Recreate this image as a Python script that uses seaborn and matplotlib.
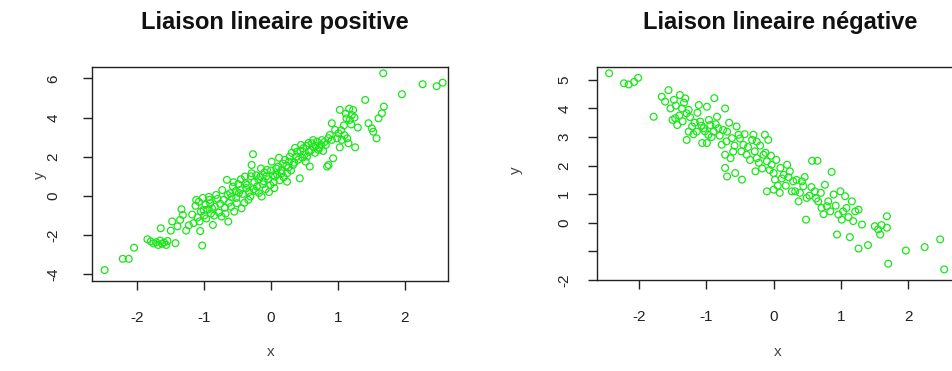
import matplotlib
matplotlib.use("Agg")
import matplotlib.pyplot as plt
import seaborn as sns
import pandas as pd
from matplotlib import font_manager

# ---------------- data ----------------
pos_x = [-2.49, -2.22, -2.13, -2.05, -1.85, -1.80, -1.76, -1.72, -1.69, -1.66,
         -1.63, -1.60, -1.57, -1.55, -1.43, -1.65, -1.50, -1.48, -1.40, -1.34,
         -1.32, -1.36, -1.27, -1.23, -1.06, -1.03, -1.16, -1.13, -1.10, -1.08,
         -1.05, -1.02, -1.00, -0.98, -0.95, -0.92, -0.90, -1.01, -0.91, -0.87,
         -0.84, -0.80, -0.78, -0.74, -0.71, -0.69, -0.66, -0.64, -0.63, -0.61,
         -0.59, -0.57, -0.55, -0.53, -0.51, -0.49, -0.46, -0.44, -0.42, -0.39,
         -0.37, -0.36, -0.34, -0.31, -0.29, -0.29, -0.27, -0.25, -0.23, -0.21,
         -0.19, -0.16, -0.14, -0.12, -0.10, -0.08, -0.06, -0.04, -0.01, 0.01,
         0.03, 0.05, 0.06, 0.08, 0.11, 0.13, 0.16, 0.18, 0.21, 0.24,
         0.24, 0.26, 0.28, 0.30, 0.33, 0.36, 0.39, 0.41, 0.43, 0.45,
         0.48, 0.50, 0.52, 0.54, 0.56, 0.58, 0.60, 0.61, 0.64, 0.66,
         0.69, 0.72, 0.75, 0.78, 0.80, 0.84, 0.86, 0.88, 0.91, 0.91,
         0.93, 0.96, 0.99, 1.01, 1.03, 1.03, 1.06, 1.09, 1.13, 1.14,
         1.16, 1.18, 1.21, 1.23, 1.26, 1.30, 1.41, 1.46, 1.51, 1.53,
         1.58, 1.61, 1.66, 1.69, 1.68, 1.96, 2.27, 2.48, 2.57,
         -1.18, -1.12, -1.07, -0.97, -0.93, -0.88, -0.85, -0.82, -0.76, -0.73,
         -0.68, -0.65, -0.60, -0.56, -0.52, -0.48, -0.45, -0.40, -0.38, -0.33,
         -0.30, -0.26, -0.22, -0.18, -0.15, -0.11, -0.07, -0.03, 0.00, 0.04,
         0.09, 0.12, 0.15, 0.19, 0.23, 0.27, 0.31, 0.35, 0.38, 0.44,
         0.47, 0.53, 0.57, 0.63, 0.67, 0.71, 0.76, 0.82, 0.86, 1.05,
         1.10, 1.12, 1.17, 1.20, 1.25]
pos_y = [-3.78, -3.21, -3.21, -2.64, -2.21, -2.32, -2.42, -2.36, -2.50, -2.28,
         -2.44, -2.38, -2.50, -2.30, -2.41, -1.65, -1.77, -1.30, -1.55, -0.68,
         -0.97, -1.22, -1.77, -1.50, -1.79, -2.53, -1.39, -0.50, -1.10, -0.30,
         -0.80, -0.10, -1.00, -0.45, -0.70, -0.20, -0.90, -0.71, -0.37, -1.48,
         -0.55, -0.15, -0.85, -1.05, -0.20, -0.60, 0.82, -1.31, -0.35, 0.14,
         -0.05, 0.48, -0.80, 0.25, -0.37, 0.60, 0.31, -0.63, 0.10, 0.99,
         0.40, 0.56, -0.20, -0.03, 1.58, 1.16, 2.13, 0.70, 0.25, 0.48,
         0.85, 0.99, -0.03, 0.60, 1.20, 0.35, 1.33, 0.85, 0.56, 1.75,
         1.05, 0.40, 0.99, 1.40, 1.50, 0.80, 1.16, 1.65, 1.84, 0.73,
         1.16, 1.45, 2.01, 1.30, 1.58, 2.45, 2.26, 1.85, 0.90, 2.60,
         2.43, 2.10, 1.75, 2.01, 2.70, 1.50, 2.35, 2.69, 2.50, 2.20,
         2.77, 2.45, 2.60, 2.30, 2.75, 1.50, 1.58, 3.11, 2.86, 3.71,
         1.92, 3.37, 2.94, 3.20, 2.48, 4.39, 2.86, 3.60, 3.96, 2.94,
         2.69, 3.88, 4.13, 4.39, 2.48, 3.49, 4.90, 3.71, 3.45, 3.28,
         2.94, 3.96, 4.22, 4.56, 6.26, 5.19, 5.70, 5.60, 5.78,
         -0.95, -0.20, -1.30, -1.15, -0.05, -0.65, -1.00, 0.05, -0.40, 0.30,
         -0.90, 0.05, -0.55, 0.70, -0.10, 0.15, 0.85, -0.35, 0.65, 0.20,
         1.00, 0.35, 1.05, 0.15, 1.40, 0.75, 1.00, 0.20, 1.30, 0.70,
         1.10, 1.95, 1.30, 0.95, 1.55, 1.75, 2.20, 1.70, 2.00, 2.30,
         1.95, 2.55, 2.25, 2.85, 2.55, 2.35, 2.85, 2.60, 2.95, 3.35,
         3.10, 4.20, 4.45, 3.65, 4.00]

neg_x = [-2.44, -2.22, -2.15, -2.07, -2.01, -1.78, -1.66, -1.61, -1.56, -1.53,
         -1.48, -1.46, -1.43, -1.39, -1.36, -1.31, -1.29, -1.26, -1.29, -1.26,
         -1.21, -1.14, -1.11, -1.09, -1.06, -1.04, -0.99, -0.99, -0.97, -0.94,
         -0.89, -0.88, -0.84, -0.82, -0.77, -0.72, -0.72, -0.69, -0.72, -0.69,
         -0.64, -0.62, -0.60, -0.57, -0.55, -0.52, -0.47, -0.45,
         -0.30, -0.25, -0.40, -0.27, -0.25, -0.15, -0.10, -0.13, -0.08, -0.10,
         0.00, 0.09, -0.03, 0.00, 0.02, 0.10, 0.15, 0.20, 0.24, 0.29,
         0.32, 0.37, 0.42, 0.44, 0.48, 0.49, 0.57, 0.65, 0.61, 0.66,
         0.76, 0.71, 0.79, 0.84, 0.86, 0.89, 0.94, 0.96, 0.99, 1.01,
         1.06, 1.08, 1.13, 1.16, 1.18, 1.21, 1.26, 1.26, 1.31, 1.40,
         1.50, 1.55, 1.60, 1.58, 1.68, 1.68, 1.70, 1.96, 2.24, 2.47,
         2.53,
         -1.50, -1.45, -1.40, -1.35, -1.33, -1.24, -1.19, -1.17, -1.13, -1.07,
         -1.02, -0.96, -0.92, -0.86, -0.80, -0.75, -0.70, -0.66, -0.58, -0.50,
         -0.48, -0.43, -0.38, -0.35, -0.32, -0.28, -0.22, -0.20, -0.17, -0.12,
         -0.06, -0.04, 0.04, 0.06, 0.12, 0.18, 0.22, 0.27, 0.34, 0.39,
         0.46, 0.53, 0.56, 0.63, 0.70, 0.74, 0.81, 0.92, 1.03, 1.11]
neg_y = [5.23, 4.88, 4.84, 4.93, 5.07, 3.71, 4.41, 4.24, 4.64, 4.00,
         4.30, 3.66, 3.42, 4.47, 4.00, 4.35, 3.83, 3.95, 2.90, 3.19,
         3.37, 3.19, 4.12, 3.54, 2.79, 3.31, 4.06, 2.79, 3.08, 3.42,
         3.19, 4.36, 3.71, 3.31, 2.73, 4.00, 2.38, 3.19, 1.92, 1.62,
         2.26, 2.96, 2.49, 1.74, 3.37, 3.08, 1.51, 2.73,
         3.08, 2.84, 2.38, 1.80, 2.26, 2.38, 2.15, 3.08, 2.90, 1.10,
         1.16, 1.05, 2.03, 1.74, 1.51, 1.92, 1.68, 2.03, 1.80, 1.45,
         1.10, 0.75, 1.45, 1.28, 0.11, 0.87, 2.17, 2.17, 1.10, 0.75,
         1.33, 0.52, 0.58, 0.40, 1.78, 0.99, -0.41, 0.29, 1.10, 0.11,
         0.93, 0.52, -0.50, 0.75, 0.06, 0.40, 0.46, -0.90, -0.06, -0.78,
         -0.12, -0.23, -0.08, -0.41, 0.23, -0.17, -1.43, -0.97, -0.85, -0.58,
         -1.63,
         3.60, 4.10, 3.75, 3.55, 4.20, 3.70, 3.10, 3.50, 3.85, 3.40,
         3.20, 3.60, 3.00, 3.45, 3.05, 3.25, 2.85, 3.50, 2.70, 2.95,
         2.50, 3.10, 2.65, 2.20, 2.90, 2.50, 2.10, 2.70, 1.90, 2.45,
         1.85, 2.35, 2.20, 1.30, 1.55, 1.30, 1.60, 1.10, 1.50, 1.05,
         1.60, 0.95, 1.25, 0.85, 1.05, 0.30, 0.75, 0.60, 0.40, 0.20]

titles = ["Liaison lineaire positive", "Liaison lineaire négative"]
pos_yticks = [-4, -2, 0, 2, 4, 6]
neg_yticks = [-2, -1, 0, 1, 2, 3, 4, 5]
neg_yticklabels = ["-2", "", "0", "1", "2", "3", "4", "5"]
xticks = [-2, -1, 0, 1, 2]

# ---------------- figure ----------------
sns.set_style("white")
plt.rcParams["font.family"] = ["Liberation Sans", "DejaVu Sans"]

installed = {f.name for f in font_manager.fontManager.ttflist}
if "Liberation Sans Narrow" in installed:
    title_family, title_size = ["Liberation Sans Narrow", "Liberation Sans"], 19
else:
    title_family, title_size = ["Liberation Sans", "DejaVu Sans"], 17

W, H = 952, 371
fig = plt.figure(figsize=(W / 100, H / 100), dpi=100)

def frac(l, t, r, b):
    return [l / W, 1 - b / H, (r - l) / W, (b - t) / H]

ax1 = fig.add_axes(frac(92, 67, 448, 281))
ax2 = fig.add_axes(frac(597, 67, 955, 280))

green = "#19e619"
df1 = pd.DataFrame({"x": pos_x, "y": pos_y})
df2 = pd.DataFrame({"x": neg_x, "y": neg_y})
for ax, df in ((ax1, df1), (ax2, df2)):
    sns.scatterplot(data=df, x="x", y="y", ax=ax, marker="o", s=24,
                    facecolors="none", edgecolor=green, linewidth=0.9)

ax1.set_xlim(-2.68, 2.65)
ax1.set_ylim(-4.34, 6.58)
ax2.set_xlim(-2.62, 2.69)
ax2.set_ylim(-1.98, 5.45)

ax1.set_yticks(pos_yticks)
ax1.set_yticklabels([str(v) for v in pos_yticks])
ax2.set_yticks(neg_yticks)
ax2.set_yticklabels(neg_yticklabels)

for ax, ypad in ((ax1, 16), (ax2, 12)):
    ax.set_xticks(xticks)
    ax.set_xticklabels([str(v) for v in xticks])
    ax.set_xlabel("")
    ax.set_ylabel("")
    for s in ax.spines.values():
        s.set_visible(True)
        s.set_color("#222222")
        s.set_linewidth(1.0)
    ax.tick_params(axis="both", which="both", direction="out", length=6.5,
                   width=1.0, color="#222222", labelsize=11, labelcolor="#222222",
                   bottom=True, left=True)
    ax.tick_params(axis="x", pad=15)
    ax.tick_params(axis="y", pad=ypad)
    for lab in ax.get_yticklabels():
        lab.set_rotation(90)
        lab.set_va("center")

fig.text(275 / W, 1 - 23 / H, titles[0], ha="center", va="center",
         fontsize=title_size, fontweight="bold", color="#111111", family=title_family)
fig.text(780 / W, 1 - 23 / H, titles[1], ha="center", va="center",
         fontsize=title_size, fontweight="bold", color="#111111", family=title_family)

fig.text(271 / W, 1 - 352 / H, "x", ha="center", va="center", fontsize=11, color="#444444")
fig.text(778 / W, 1 - 352 / H, "x", ha="center", va="center", fontsize=11, color="#444444")
fig.text(40 / W, 1 - 175 / H, "y", ha="center", va="center", fontsize=11, color="#444444", rotation=90)
fig.text(516 / W, 1 - 170 / H, "y", ha="center", va="center", fontsize=11, color="#444444", rotation=90)

fig.savefig("out.png", dpi=100, facecolor="white")
